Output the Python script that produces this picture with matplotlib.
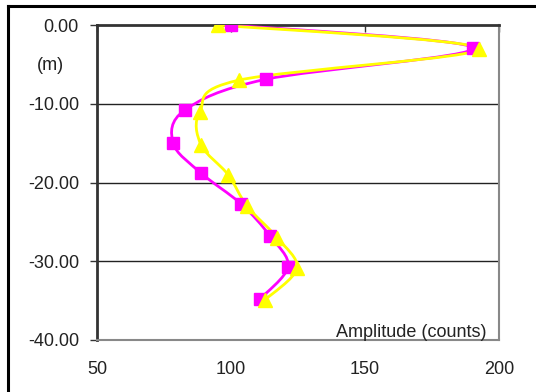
import matplotlib
matplotlib.use("Agg")
import matplotlib.pyplot as plt
from matplotlib.path import Path
from matplotlib.patches import PathPatch
from matplotlib.lines import Line2D
import numpy as np

plt.rcParams['font.family'] = ['Liberation Sans', 'DejaVu Sans']
plt.rcParams['axes.unicode_minus'] = False

# Data
magenta_amp = [100, 190.3, 112.9, 82.8, 78.4, 88.8, 103.7, 114.6, 121.3, 110.8]
magenta_depth = [0.0, -2.9, -6.9, -10.8, -15.0, -18.8, -22.7, -26.8, -30.7, -34.8]
yellow_amp = [95.1, 192.5, 103.0, 88.4, 88.8, 98.9, 106.0, 117.2, 124.6, 112.7]
yellow_depth = [0.0, -3.0, -7.0, -11.0, -15.2, -19.0, -23.0, -27.0, -30.9, -34.9]
x_ticks = [50, 100, 150, 200]
y_ticks = [0, -10, -20, -30, -40]


def smooth_path(xs, ys):
    pts = np.column_stack([xs, ys]).astype(float)
    n = len(pts)
    verts = [pts[0]]
    codes = [Path.MOVETO]
    for i in range(n - 1):
        p0 = pts[i - 1] if i > 0 else pts[i]
        p1 = pts[i]
        p2 = pts[i + 1]
        p3 = pts[i + 2] if i + 2 < n else pts[i + 1]
        c1 = p1 + (p2 - p0) / 6.0
        c2 = p2 - (p3 - p1) / 6.0
        verts += [c1, c2, p2]
        codes += [Path.CURVE4] * 3
    return Path(verts, codes)


fig = plt.figure(figsize=(5.36, 3.92), dpi=100)
ax = fig.add_axes([97/536, 1-340/392, 402/536, 315/392])

for xs, ys, col, mk, ms in [(magenta_amp, magenta_depth, '#FF00FF', 's', 8.5),
                            (yellow_amp, yellow_depth, '#FFFF00', '^', 10)]:
    patch = PathPatch(smooth_path(xs, ys), facecolor='none', edgecolor=col,
                      lw=2.0, zorder=3)
    ax.add_patch(patch)
    ax.plot(xs, ys, linestyle='none', marker=mk, ms=ms, color=col,
            markeredgecolor=col, zorder=4)

ax.set_xlim(50, 200)
ax.set_ylim(-40, 0)
ax.set_xticks(x_ticks)
ax.set_yticks(y_ticks)
ax.set_yticklabels([f"{v:.2f}" for v in y_ticks])
ax.set_xticklabels([str(v) for v in x_ticks])

for y in [-10, -20, -30]:
    ax.axhline(y, color='#222222', lw=1.0, zorder=1)

ax.spines['left'].set_color('#333333')
ax.spines['left'].set_linewidth(2)
ax.spines['top'].set_color('#333333')
ax.spines['top'].set_linewidth(2)
ax.spines['right'].set_color('#888888')
ax.spines['right'].set_linewidth(1.5)
ax.spines['bottom'].set_color('#888888')
ax.spines['bottom'].set_linewidth(1.5)

ax.tick_params(axis='x', top=True, bottom=False, labeltop=False,
               labelbottom=True, direction='in', length=5, width=1,
               color='#333333', pad=15, labelsize=13, labelcolor='#222222')
ax.tick_params(axis='y', left=True, direction='out', length=5, width=1,
               color='#333333', pad=8, labelsize=13, labelcolor='#222222')

fig.text(50/536, 1-65/392, "(m)", ha='center', va='center', fontsize=13,
         color='#222222')
ax.text((487-97)/402, 3/315, "Amplitude (counts)", ha='right', va='baseline',
        fontsize=13, color='#222222', zorder=5, transform=ax.transAxes)

# outer border
fig.add_artist(Line2D([8/536, 1], [1-6/392, 1-6/392], transform=fig.transFigure,
                      color='black', lw=2.2))
fig.add_artist(Line2D([8/536, 8/536], [0, 1-6/392], transform=fig.transFigure,
                      color='black', lw=2.2))

fig.savefig("out.png", dpi=100, facecolor='white')
